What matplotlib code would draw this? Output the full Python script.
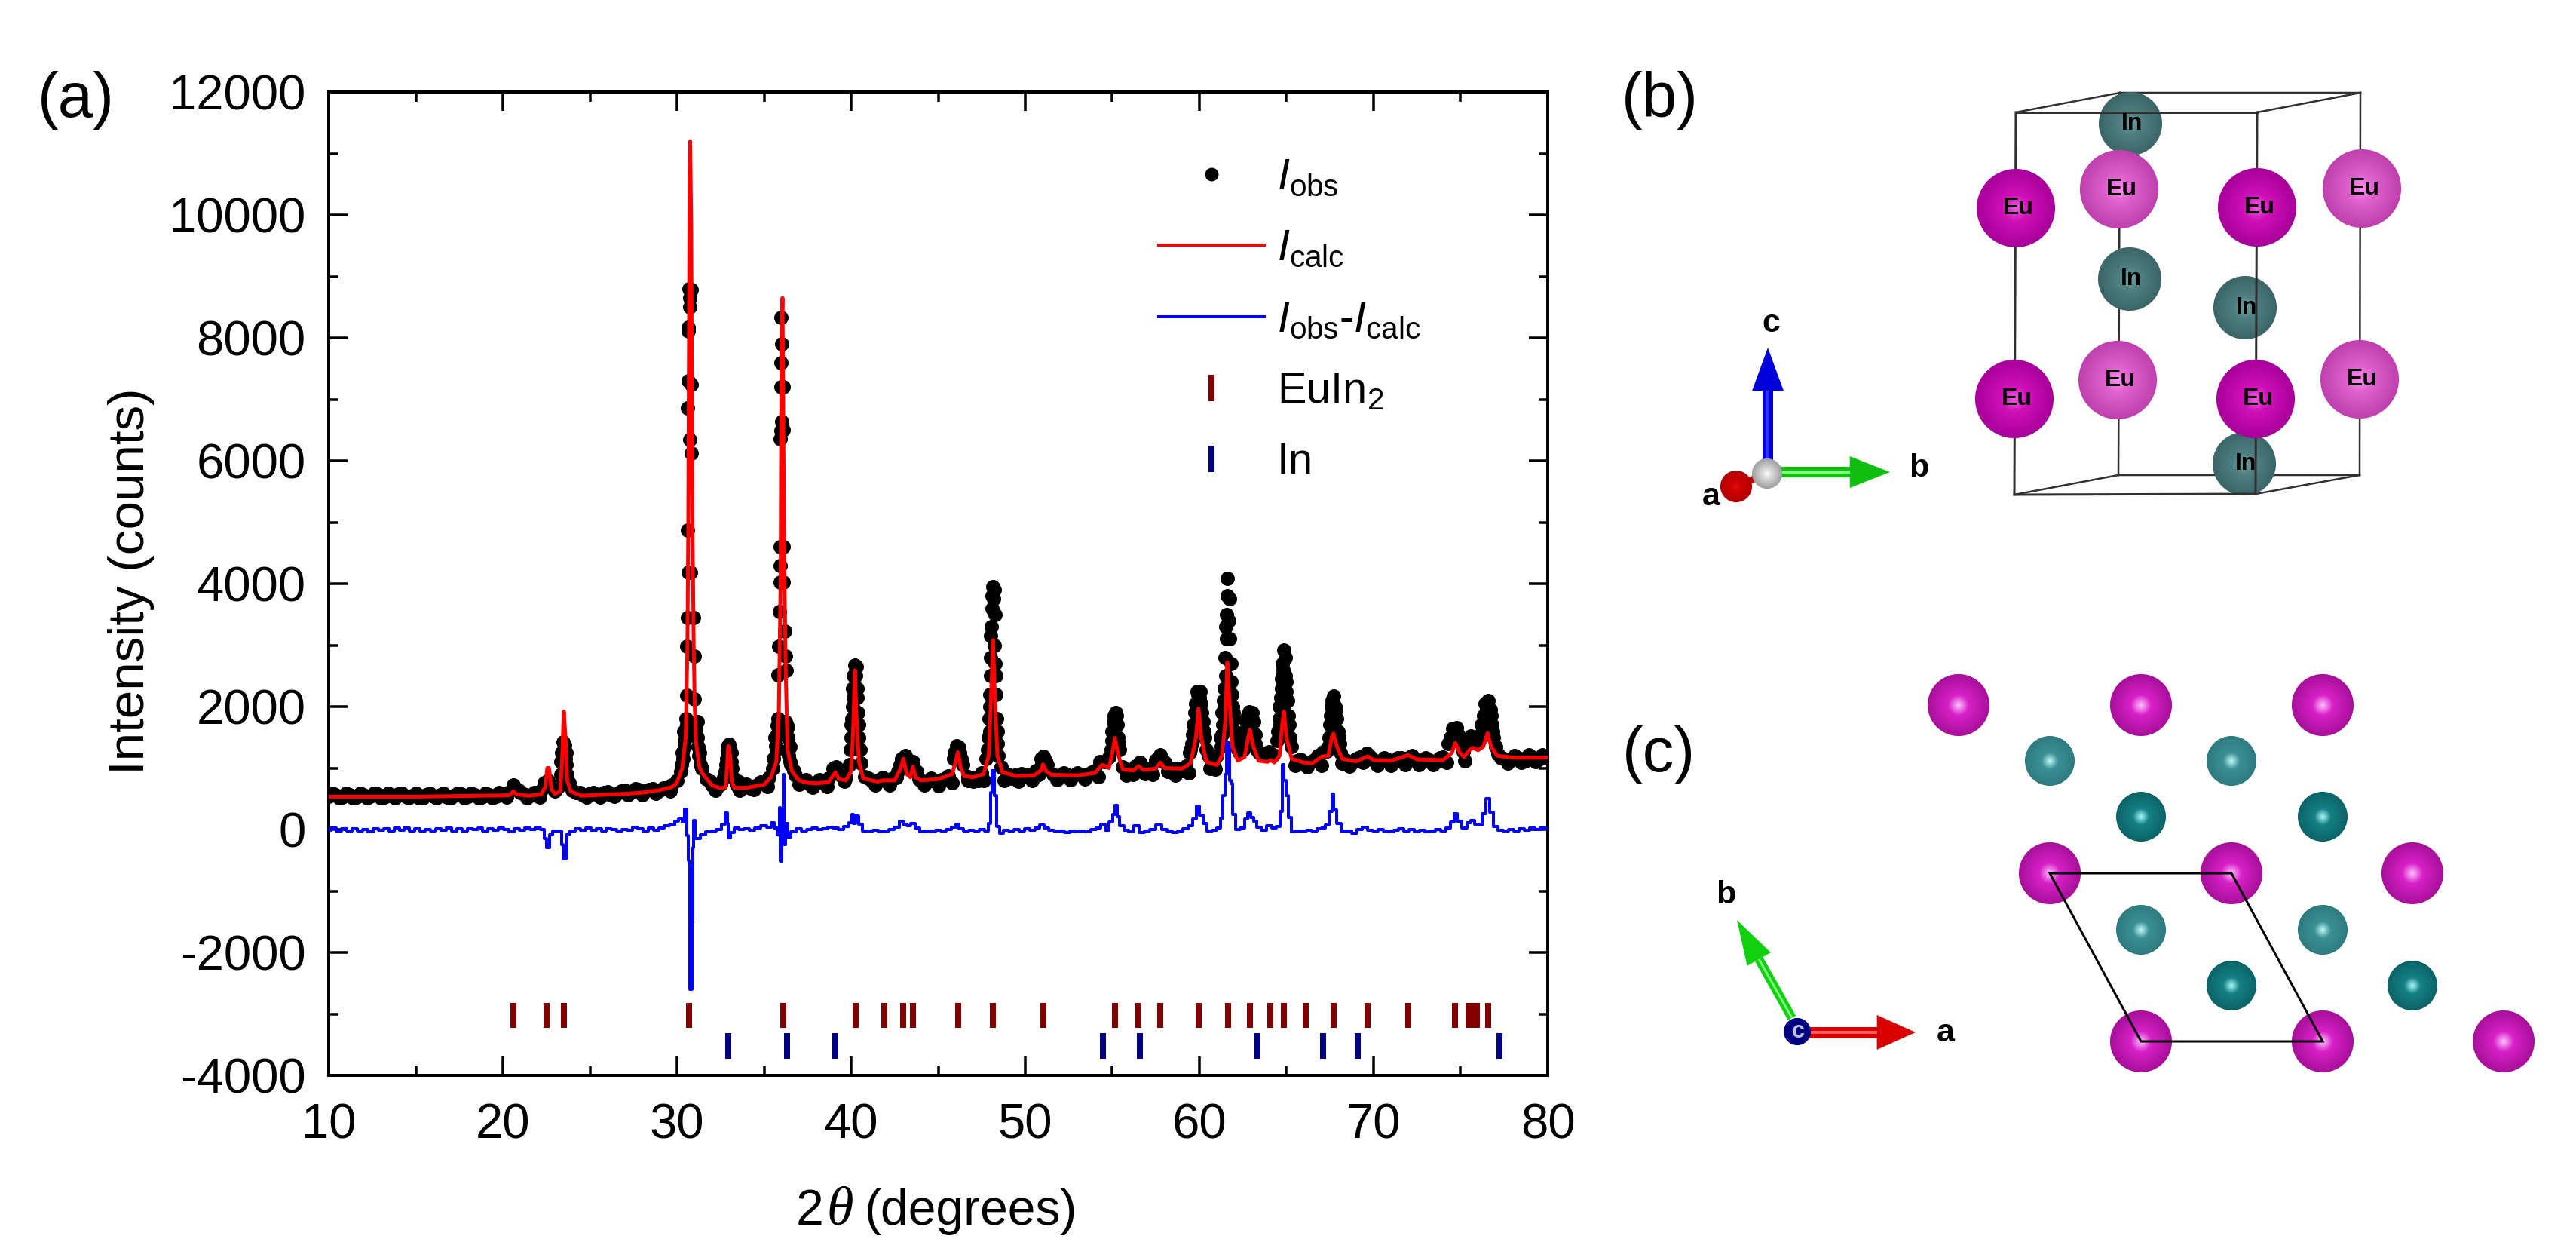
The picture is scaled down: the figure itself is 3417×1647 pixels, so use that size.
import matplotlib
matplotlib.use("Agg")
import matplotlib.pyplot as plt
import numpy as np
from matplotlib.lines import Line2D
from matplotlib.patches import Ellipse, Polygon

plt.rcParams['font.family'] = ['Liberation Sans', 'DejaVu Sans']
plt.rcParams['mathtext.fontset'] = 'custom'
plt.rcParams['mathtext.rm'] = 'Liberation Sans'
plt.rcParams['mathtext.it'] = 'Liberation Sans:italic'
plt.rcParams['mathtext.bf'] = 'Liberation Sans:bold'
plt.rcParams['axes.unicode_minus'] = False

# ---------------- data ----------------
x_ticks = [10, 20, 30, 40, 50, 60, 70, 80]
y_ticks = [-4000, -2000, 0, 2000, 4000, 6000, 8000, 10000, 12000]

obs_pts = [
 (10.0,545),(10.4,570),(10.8,530),(11.2,560),(11.6,525),(12.0,565),(12.4,540),(12.8,575),(13.2,530),(13.6,555),
 (14.0,580),(14.4,535),(14.8,550),(15.2,520),(15.6,560),(16.0,535),(16.4,570),(16.8,525),(17.2,555),(17.6,580),
 (18.0,540),(18.4,560),(18.8,530),(19.2,570),(19.6,545),(20.0,575),(20.3,600),(20.6,720),(20.9,640),(21.2,580),
 (21.6,560),(22.0,590),(22.2,640),(22.4,760),(22.6,800),(22.8,690),(23.0,620),(23.2,700),(23.35,1100),(23.45,1420),
 (23.55,1380),(23.65,1050),(23.8,760),(24.0,640),(24.2,600),(24.6,570),(25.0,590),(25.4,560),(25.8,600),(26.2,570),
 (26.6,590),(27.0,640),(27.4,610),(27.8,650),(28.2,620),(28.6,660),(29.0,640),(29.4,680),(29.7,730),(30.0,800),
 (30.2,950),(30.35,1150),(30.42,1450),(30.5,1800),(30.55,2190),(30.55,2985),(30.6,3450),(30.66,4180),(30.78,4180),(30.62,4870),
 (30.72,6340),(30.62,6860),(30.66,7300),(30.66,8115),(30.66,8175),(30.72,8500),(30.72,8650),(30.68,8800),(30.82,8780),(30.84,7240),
 (30.84,6120),(30.95,3450),(31.0,2820),(31.0,2120),(31.05,1700),(31.15,1500),(31.3,1250),(31.45,1000),(31.7,820),(32.0,720),
 (32.3,690),(32.5,740),(32.7,850),(32.8,1050),(32.88,1350),(33.0,1390),(33.1,1100),(33.2,850),(33.4,720),(33.8,700),
 (34.2,680),(34.6,720),(35.0,760),(35.3,850),(35.5,1000),(35.65,1360),(35.75,1690),(35.82,2520),(35.85,2985),(35.88,3550),
 (35.92,4030),(35.92,4290),(35.95,4600),(35.95,6360),(35.98,6490),(36.02,6640),(35.98,7200),(35.98,7600),(36.0,7900),(35.98,8330),
 (36.12,7200),(36.12,6500),(36.12,4600),(36.12,4030),(36.2,3230),(36.25,2820),(36.28,2590),(36.32,1690),(36.4,1300),(36.55,1050),
 (36.8,880),(37.2,780),(37.6,740),(38.0,770),(38.4,760),(38.7,830),(38.95,1000),(39.15,1020),(39.4,880),(39.7,850),
 (39.9,1050),(40.0,1500),(40.05,1800),(40.12,2150),(40.2,2680),(40.3,2650),(40.35,2150),(40.42,1500),(40.55,1080),(40.8,860),
 (41.2,780),(41.6,810),(42.0,790),(42.4,830),(42.7,950),(42.9,1150),(43.1,1200),(43.3,1000),(43.55,1100),(43.75,950),
 (44.0,800),(44.4,780),(44.8,790),(45.2,810),(45.6,870),(45.9,1150),(46.05,1360),(46.2,1340),(46.4,1050),(46.7,860),
 (47.1,850),(47.5,920),(47.75,1150),(47.9,1500),(47.98,2200),(48.02,2800),(48.02,3150),(48.08,3600),(48.15,3950),(48.22,3900),
 (48.25,3500),(48.22,3000),(48.3,2200),(48.4,1400),(48.6,1020),(49.0,900),(49.4,880),(49.8,910),(50.2,890),(50.6,960),
 (50.9,1150),(51.05,1190),(51.25,1060),(51.6,900),(52.0,880),(52.4,900),(52.8,880),(53.2,900),(53.6,890),(54.0,960),
 (54.3,1100),(54.55,1110),(54.8,1180),(54.98,1450),(55.08,1750),(55.18,1900),(55.3,1700),(55.42,1300),(55.6,1020),(56.0,960),
 (56.3,1030),(56.6,1090),(56.9,1000),(57.2,980),(57.5,1130),(57.75,1210),(58.0,1090),(58.4,1000),(58.8,990),(59.2,1030),
 (59.45,1250),(59.6,1550),(59.75,1900),(59.85,2250),(60.05,2250),(60.15,1900),(60.3,1500),(60.5,1200),(60.8,1100),(61.0,1200),
 (61.2,1500),(61.32,1900),(61.42,2300),(61.48,2800),(61.55,3100),(61.55,3500),(61.6,3800),(61.62,4080),(61.72,3750),(61.72,3100),
 (61.8,2700),(61.88,2200),(62.0,1800),(62.15,1400),(62.3,1250),(62.55,1450),(62.7,1750),(62.85,1920),(63.05,1900),(63.2,1550),
 (63.4,1250),(63.7,1210),(64.0,1260),(64.25,1220),(64.45,1450),(64.58,1800),(64.68,2150),(64.72,2450),(64.78,2700),(64.85,2920),
 (64.95,2800),(64.98,2400),(65.05,2100),(65.15,1700),(65.3,1350),(65.6,1120),(66.0,1090),(66.4,1100),(66.8,1200),(67.1,1260),
 (67.3,1280),(67.45,1500),(67.55,1850),(67.62,2100),(67.72,2170),(67.85,1950),(67.95,1600),(68.1,1250),(68.4,1130),(68.8,1090),
 (69.2,1180),(69.6,1240),(70.0,1130),(70.4,1100),(70.8,1140),(71.2,1110),(71.6,1160),(72.0,1170),(72.4,1140),(72.8,1110),
 (73.2,1130),(73.6,1110),(74.0,1180),(74.3,1400),(74.55,1650),(74.75,1660),(74.95,1500),(75.15,1260),(75.35,1430),(75.6,1520),
 (75.85,1430),(76.05,1450),(76.2,1700),(76.4,2050),(76.6,2100),(76.75,1850),(76.9,1500),(77.15,1230),(77.5,1150),(77.9,1130),
 (78.3,1170),(78.7,1120),(79.1,1180),(79.5,1140),(80.0,1170),
]
# further observed points: scatter of the background band and the flanks of the peaks
obs_scatter = [
 (10.2,590),(10.6,515),(11.0,585),(11.4,510),(11.8,590),(12.2,520),(12.6,585),(13.0,510),(13.4,590),(13.8,515),
 (14.2,590),(14.6,510),(15.0,585),(15.4,515),(15.8,590),(16.2,520),(16.6,590),(17.0,510),(17.4,585),(17.8,520),
 (18.2,590),(18.6,515),(19.0,590),(19.4,520),(19.8,600),(20.2,530),(21.0,600),(21.4,520),(21.8,600),(22.1,530),
 (24.4,600),(24.8,530),(25.2,600),(25.6,530),(26.0,610),(26.4,540),(26.8,620),(27.2,560),(27.6,660),(28.0,570),
 (28.4,650),(28.8,590),(29.2,680),(29.6,620),(31.9,780),(32.2,640),(33.5,780),(33.6,640),(34.0,740),(34.4,650),
 (34.8,770),(35.2,700),(36.7,960),(37.0,740),(37.4,810),(37.8,690),(38.2,810),(38.6,700),(39.6,780),(41.0,840),
 (41.4,720),(41.8,850),(42.2,730),(42.6,850),(43.9,820),(44.2,720),(44.6,830),(45.0,710),(45.4,840),(45.8,760),
 (46.7,800),(47.0,780),(47.3,800),(47.6,800),(48.8,800),(49.2,830),(49.6,790),(50.0,860),(50.4,800),(50.8,900),
 (51.8,810),(52.2,920),(52.6,810),(53.0,920),(53.4,820),(53.8,930),(54.2,860),(55.8,880),(56.2,900),(56.9,910),
 (57.3,900),(58.2,950),(58.6,880),(59.0,960),(59.4,920),(60.6,1000),(60.9,980),(65.5,1040),(65.8,1140),(66.2,1020),
 (66.6,1130),(67.0,1040),(68.2,1080),(68.6,1030),(69.0,1150),(69.4,1090),(69.8,1190),(70.2,1040),(70.6,1160),(71.0,1040),
 (71.4,1170),(71.8,1060),(72.2,1200),(72.6,1060),(73.0,1170),(73.4,1050),(73.8,1170),(74.2,1090),(75.25,1120),(77.3,1170),
 (77.7,1080),(78.1,1200),(78.5,1090),(78.9,1210),(79.3,1100),(79.7,1210),
 (23.32,900),(23.38,1250),(23.42,1100),(23.5,1300),(23.5,1150),(23.58,1150),(23.62,1250),(23.7,900),(23.5,950),
 (32.78,950),(32.85,1150),(32.9,1250),(33.05,1300),(33.1,1250),(33.15,1000),(33.0,1150),
 (30.25,1050),(30.3,1250),(30.4,1600),(30.45,1350),(30.5,1550),(31.1,1650),(31.2,1350),(31.15,1750),(31.25,1200),(31.35,1050),(30.55,1700),(31.0,1600),
 (35.55,1150),(35.62,1500),(35.7,1300),(35.75,1550),(36.3,1650),(36.35,1500),(36.42,1200),(36.48,1350),(36.5,1100),(35.8,1800),(36.25,1750),
 (40.02,1700),(40.08,2000),(40.1,2300),(40.15,2500),(40.28,2500),(40.33,2300),(40.38,1900),(40.42,1700),(40.5,1300),(39.95,1300),
 (42.8,1050),(43.0,1050),(43.2,1100),(45.95,1250),(46.12,1200),(46.25,1250),(46.32,1150),
 (47.85,1300),(47.92,1800),(47.95,2000),(47.98,1600),(48.0,2500),(48.05,3300),(48.1,3800),(48.2,3750),(48.28,2700),(48.3,2500),(48.35,1800),(48.38,1600),(48.45,1200),
 (50.95,1080),(51.15,1120),(55.0,1600),(55.08,1500),(55.1,1850),(55.25,1850),(55.33,1500),(55.38,1400),(54.95,1300),
 (59.55,1400),(59.65,1700),(59.7,1600),(59.8,2050),(59.9,2200),(59.98,2150),(60.1,2050),(60.2,1750),(60.25,1600),(60.4,1300),(59.5,1300),
 (61.25,1350),(61.35,1700),(61.3,1550),(61.4,2100),(61.45,2000),(61.5,2500),(61.5,3300),(61.7,3400),(61.82,2400),(61.9,2000),(61.95,1900),(62.05,1600),(62.2,1300),
 (62.6,1600),(62.75,1850),(62.95,1900),(63.1,1750),(63.2,1400),(63.3,1300),(62.5,1300),
 (64.5,1600),(64.6,2000),(64.65,1700),(64.7,2300),(64.75,2500),(64.82,2600),(64.92,2500),(65.0,2250),(65.1,1850),(65.2,1500),(64.9,2150),(64.8,2000),
 (67.5,1700),(67.58,2000),(67.65,1800),(67.78,2000),(67.88,1800),(68.0,1500),(68.05,1400),(67.4,1350),
 (74.4,1500),(74.5,1500),(74.65,1550),(74.85,1550),(75.05,1380),(75.45,1480),(75.75,1500),
 (76.15,1550),(76.3,1850),(76.35,1650),(76.5,1950),(76.7,1950),(76.8,1700),(76.85,1600),(77.0,1350),
]
calc_pts = [
 (10,535),(15,535),(20,555),(20.4,560),(20.6,620),(20.8,570),(21.5,550),(22.2,570),(22.45,700),(22.55,1000),
 (22.65,1000),(22.8,650),(23.0,580),(23.3,620),(23.4,1100),(23.5,1920),(23.6,1500),(23.7,800),(23.9,620),(24.5,550),
 (27,580),(28,600),(29,640),(29.7,690),(30,760),(30.3,1000),(30.5,1500),(30.6,3000),(30.65,5000),(30.72,10600),
 (30.76,11200),(30.82,9700),(30.88,5200),(30.96,3000),(31.02,2000),(31.1,1400),(31.3,1000),(31.5,900),(32,720),(32.5,670),
 (32.8,690),(32.85,900),(32.95,1360),(33.05,1200),(33.15,760),(33.3,680),(34,680),(35,730),(35.4,850),(35.7,1100),
 (35.85,1900),(35.95,4000),(36.0,7900),(36.06,8650),(36.1,7000),(36.15,4500),(36.25,2500),(36.35,1300),(36.6,950),(37,800),
 (37.5,760),(38,750),(38.7,770),(38.9,850),(39.1,930),(39.3,820),(39.7,800),(40.0,950),(40.1,1500),(40.22,2590),
 (40.3,1900),(40.45,1100),(40.7,830),(41.5,780),(41.85,800),(42.5,800),(42.85,1000),(43.0,1150),(43.2,900),(43.4,850),
 (43.55,1020),(43.7,850),(44,800),(45,820),(45.8,900),(46.0,1100),(46.13,1260),(46.3,1000),(46.5,870),(47,850),
 (47.6,900),(47.9,1200),(48.0,1900),(48.15,3080),(48.25,2200),(48.4,1200),(48.7,930),(49.5,870),(50.5,880),(50.9,960),
 (51.02,1060),(51.2,950),(51.5,890),(53,880),(54,920),(54.4,1050),(54.55,1040),(54.8,1000),(55.0,1250),(55.15,1490),
 (55.35,1200),(55.6,980),(56.2,960),(56.5,1030),(56.8,970),(57.5,990),(57.76,1090),(58,1000),(59,990),(59.5,1080),
 (59.8,1500),(59.95,1970),(60.1,1500),(60.4,1100),(61,1050),(61.3,1200),(61.5,1800),(61.6,2720),(61.7,2200),(61.9,1350),
 (62.2,1120),(62.6,1180),(62.8,1500),(62.9,1620),(63.1,1350),(63.4,1120),(63.9,1100),(64.09,1130),(64.3,1090),(64.6,1200),
 (64.75,1700),(64.85,1920),(65,1500),(65.3,1150),(66,1090),(66.5,1080),(67.0,1180),(67.15,1190),(67.4,1200),(67.6,1500),
 (67.7,1560),(67.9,1350),(68.2,1150),(69,1110),(69.66,1190),(70,1130),(71,1120),(71.99,1210),(72.5,1140),(74,1130),
 (74.5,1250),(74.7,1410),(74.95,1250),(75.2,1180),(75.5,1290),(75.7,1330),(76,1290),(76.3,1350),(76.55,1570),(76.75,1350),
 (77.1,1200),(78,1170),(80,1170),
]
diff_pts = [
 (10,-10),(10.3,20),(10.6,-30),(10.9,10),(11.2,-25),(11.5,15),(11.8,-20),(12.1,5),(12.4,-35),(12.7,15),
 (13,-15),(13.3,10),(13.6,-30),(13.9,20),(14.2,-10),(14.5,30),(14.8,-25),(15.1,10),(15.4,-20),(15.7,5),
 (16,-30),(16.3,15),(16.6,-15),(16.9,20),(17.2,-25),(17.5,10),(17.8,-20),(18.1,15),(18.4,-5),(18.7,20),
 (19,-25),(19.3,15),(19.6,-10),(19.9,20),(20.2,-5),(20.5,-40),(20.8,15),(21.1,-15),(21.4,25),(21.7,5),
 (22.0,30),(22.3,0),(22.45,-150),(22.55,-300),(22.65,-300),(22.75,-80),(23.0,-30),(23.3,-20),(23.42,-250),(23.5,-480),
 (23.6,-470),(23.72,-70),(24,-20),(24.3,10),(24.6,-15),(24.9,20),(25.2,-10),(25.5,15),(25.8,-25),(26.1,10),
 (26.4,-5),(26.7,-25),(27,5),(27.3,-15),(27.6,35),(27.9,15),(28.2,-20),(28.5,20),(28.8,-10),(29.1,25),
 (29.4,60),(29.7,70),(30,130),(30.2,170),(30.4,120),(30.5,330),(30.6,-100),(30.68,-500),(30.72,-560),(30.78,-2600),
 (30.85,-2600),(30.9,-1500),(30.93,-300),(31.0,150),(31.05,-150),(31.2,-150),(31.5,-80),(31.8,-40),(32.1,-30),(32.4,0),
 (32.7,80),(32.85,270),(32.92,100),(33.0,-130),(33.15,-50),(33.4,20),(33.7,-5),(34,15),(34.3,-10),(34.6,30),
 (35,60),(35.3,40),(35.5,110),(35.7,30),(35.85,-80),(35.92,350),(35.98,-520),(36.05,-100),(36.12,900),(36.2,-250),
 (36.3,100),(36.4,-120),(36.7,-40),(37,10),(37.3,-20),(37.6,5),(37.9,25),(38.2,-5),(38.5,15),(38.8,40),
 (39.1,30),(39.4,5),(39.7,50),(40,110),(40.1,250),(40.2,100),(40.35,220),(40.5,80),(40.8,-20),(41.1,-30),
 (41.4,-10),(41.7,-40),(42,-20),(42.3,-5),(42.6,40),(42.9,130),(43.1,90),(43.3,60),(43.55,100),(43.8,20),
 (44.1,-40),(44.4,-20),(44.7,-35),(45,-15),(45.3,-25),(45.6,-5),(45.9,40),(46.1,80),(46.3,10),(46.6,-20),
 (46.9,-10),(47.2,-25),(47.5,-5),(47.8,-20),(47.95,100),(48.05,600),(48.15,960),(48.3,550),(48.42,50),(48.6,-60),
 (48.9,-10),(49.2,-30),(49.5,-5),(49.8,-20),(50.1,10),(50.4,-15),(50.7,20),(50.95,70),(51.2,20),(51.5,-15),
 (51.8,-30),(52.1,-20),(52.4,-45),(52.7,-25),(53,-40),(53.3,-20),(53.6,-35),(53.9,-5),(54.2,30),(54.45,90),
 (54.7,-10),(54.95,120),(55.1,240),(55.2,390),(55.35,210),(55.5,60),(55.8,-15),(56.1,-40),(56.4,60),(56.7,-50),
 (57,-30),(57.3,-5),(57.7,70),(58,0),(58.3,-30),(58.6,-50),(58.9,-20),(59.2,10),(59.5,60),(59.75,170),
 (59.9,380),(60.1,230),(60.3,100),(60.6,-20),(60.9,-10),(61.1,30),(61.3,180),(61.42,550),(61.5,900),(61.58,1420),
 (61.68,1350),(61.75,800),(61.85,750),(61.95,250),(62.2,0),(62.5,30),(62.7,170),(62.85,270),(63.0,200),(63.2,130),
 (63.4,40),(63.7,-10),(64.0,60),(64.3,30),(64.55,50),(64.7,300),(64.8,1050),(64.9,800),(65.05,550),(65.2,200),
 (65.4,-40),(65.7,-20),(66,-30),(66.3,-10),(66.6,-25),(66.9,10),(67.1,30),(67.35,70),(67.55,300),(67.65,580),
 (67.8,320),(68,100),(68.3,-20),(68.6,-30),(68.9,-60),(69.2,0),(69.5,40),(69.8,-15),(70.1,-30),(70.4,-5),
 (70.7,-25),(71,-40),(71.3,-10),(71.6,10),(71.9,-25),(72.2,-5),(72.5,-35),(72.8,-15),(73.1,-40),(73.4,-25),
 (73.7,-5),(74,-20),(74.3,30),(74.55,120),(74.7,260),(74.9,130),(75.2,20),(75.5,110),(75.7,150),(75.9,90),
 (76.1,70),(76.35,260),(76.55,500),(76.75,280),(77,50),(77.3,-15),(77.6,-25),(77.9,-5),(78.2,-20),(78.5,10),
 (78.8,-15),(79.1,20),(79.4,-5),(79.7,25),(80,10),
]
euin2_pos = [20.6, 22.5, 23.5, 30.7, 36.1, 40.25, 41.9, 43.0, 43.55, 46.13, 48.16, 51.02, 55.15, 56.49, 57.76,
             59.97, 61.63, 62.9, 64.09, 64.84, 66.1, 67.7, 69.66, 71.99, 74.68, 75.45, 75.67, 75.92, 76.57]
in_pos = [32.95, 36.3, 39.1, 54.45, 56.56, 63.32, 67.1, 69.11, 77.24]

obs_x, obs_y = zip(*(obs_pts + obs_scatter))
calc_x, calc_y = zip(*calc_pts)
diff_x, diff_y = zip(*diff_pts)

# ---------------- crystal pictures (values in image pixels) ----------------
b_eu_front = [(2674, 276), (2994, 275), (2672, 529), (2992, 529)]
b_eu_back = [(2811, 251), (3133, 250), (2809, 504), (3130, 503)]
b_in = [(2826, 164), (2825, 370), (2978, 408), (2977, 615)]
c_eu = [(2598, 935), (2840, 935), (3081, 935), (2719, 1158), (2960, 1158), (3200, 1158),
        (2840, 1381), (3081, 1381), (3321, 1381)]
c_in_light = [(2719, 1009), (2960, 1009), (2840, 1233), (3081, 1233)]
c_in_dark = [(2840, 1083), (3081, 1083), (2960, 1307), (3200, 1307)]

W, H, DPI = 3417, 1647, 100
PX = 72 / DPI
fig = plt.figure(figsize=(W / DPI, H / DPI), dpi=DPI, facecolor='white')
L, R, T, B = 436, 2053, 122, 1426
ax = fig.add_axes([L / W, 1 - B / H, (R - L) / W, (B - T) / H])

ax.plot(obs_x, obs_y, ls='none', marker='o', ms=19 * PX, mfc='black', mec='black', mew=0, zorder=2)
ax.plot(diff_x, diff_y, color='#0000ff', lw=4 * PX, zorder=3, drawstyle='steps-mid')
ax.plot(calc_x, calc_y, color='#ff0000', lw=5 * PX, zorder=4)
ax.vlines(euin2_pos, -3230, -2820, color='#800000', lw=8 * PX, zorder=3)
ax.vlines(in_pos, -3733, -3315, color='#000080', lw=8 * PX, zorder=3)

ax.set_xlim(10, 80)
ax.set_ylim(-4000, 12000)
ax.set_xticks(x_ticks)
ax.set_xticklabels([str(v) for v in x_ticks])
ax.set_yticks(y_ticks)
ax.set_yticklabels([str(v) for v in y_ticks])
ax.set_xticks(np.arange(15, 80, 10), minor=True)
ax.set_yticks(np.arange(-3000, 12000, 2000), minor=True)
ax.tick_params(which='major', direction='in', length=25 * PX, width=3.5 * PX, top=True, right=True,
               labelsize=47)
ax.tick_params(which='minor', direction='in', length=12.5 * PX, width=3.5 * PX, top=True, right=True)
ax.tick_params(axis='x', which='major', pad=26)
ax.tick_params(axis='y', which='major', pad=22)
for s in ax.spines.values():
    s.set_linewidth(4 * PX)

# legend
handles = [
    Line2D([], [], ls='none', marker='o', ms=18 * PX, mfc='black', mec='black', mew=0),
    Line2D([], [], color='#ff0000', lw=4 * PX),
    Line2D([], [], color='#0000ff', lw=4 * PX),
    Line2D([], [], ls='none', marker='|', ms=35 * PX, mec='#800000', mew=8 * PX),
    Line2D([], [], ls='none', marker='|', ms=35 * PX, mec='#000080', mew=8 * PX),
]
labels = [r'$\mathit{I}_{\mathrm{obs}}$', r'$\mathit{I}_{\mathrm{calc}}$',
          r'$\mathit{I}_{\mathrm{obs}}$-$\mathit{I}_{\mathrm{calc}}$', r'EuIn$_{2}$', 'In']
ax.legend(handles, labels, loc='upper left', bbox_to_anchor=(1537 / W, 1 - 209 / H),
          bbox_transform=fig.transFigure, frameon=False, fontsize=41.5, borderpad=0, borderaxespad=0,
          handlelength=140 / 57.6, handletextpad=17 / 57.6, labelspacing=0.70)

# overlay in image pixels for text and crystal pictures
ov = fig.add_axes([0, 0, 1, 1], zorder=5)
ov.set_xlim(0, W)
ov.set_ylim(H, 0)
ov.axis('off')
ov.patch.set_alpha(0)

ov.text(174, 771, 'Intensity (counts)', rotation=90, ha='center', va='center', fontsize=48.5)
ov.text(1056, 1624, '2', ha='left', va='baseline', fontsize=47.5)
ov.text(1096, 1624, 'θ', ha='left', va='baseline', fontsize=52, family='Liberation Serif', style='italic')
ov.text(1147, 1624, '(degrees)', ha='left', va='baseline', fontsize=47.5)
ov.text(101, 155, '(a)', ha='center', va='baseline', fontsize=60)
ov.text(2202, 155, '(b)', ha='center', va='baseline', fontsize=60)
ov.text(2200, 1023, '(c)', ha='center', va='baseline', fontsize=60)


def mix(c1, c2, t):
    a = np.array(matplotlib.colors.to_rgb(c1))
    b = np.array(matplotlib.colors.to_rgb(c2))
    return tuple(a + (b - a) * t)


def sphere(cx, cy, r, edge, mid, hi, z):
    n = 30
    for i in range(n):
        t = i / (n - 1)
        rr = r * (1 - t)
        if t < 0.65:
            col = mix(edge, mid, t / 0.65)
        else:
            col = mix(mid, hi, (t - 0.65) / 0.35)
        ov.add_patch(Ellipse((cx, cy), 2 * rr + 0.1, 2 * rr + 0.1, fc=col, ec='none', zorder=z))


def poly_arrow(start, tip, base_frac, shaft_w, head_w, fc, hi, z):
    s = np.array(start, float)
    t = np.array(tip, float)
    d = t - s
    u = d / np.hypot(*d)
    n = np.array([-u[1], u[0]])
    b = s + d * base_frac
    ov.add_patch(Polygon([s + n * shaft_w / 2, b + n * shaft_w / 2, b - n * shaft_w / 2, s - n * shaft_w / 2],
                         fc=fc, ec='none', zorder=z))
    ov.add_patch(Polygon([s + n * shaft_w * 0.12, b + n * shaft_w * 0.12, b - n * shaft_w * 0.12, s - n * shaft_w * 0.12],
                         fc=hi, ec='none', zorder=z + 0.1))
    ov.add_patch(Polygon([b + n * head_w / 2, t, b - n * head_w / 2], fc=fc, ec='none', zorder=z))


# panel (b): unit cell
back = [[(2812, 123), (3131, 123)], [(2812, 123), (2810, 630)], [(3131, 123), (3130, 630)],
        [(2810, 630), (3130, 630)], [(2674, 149), (2812, 123)], [(2994, 149), (3131, 123)],
        [(2672, 656), (2810, 630)], [(2992, 655), (3130, 630)]]
front = [[(2674, 149), (2994, 149)], [(2674, 149), (2672, 656)], [(2994, 149), (2992, 655)],
         [(2672, 656), (2992, 655)]]
for p, q in back:
    ov.plot([p[0], q[0]], [p[1], q[1]], color='#303030', lw=2.5 * PX, zorder=1)
for p, q in front:
    ov.plot([p[0], q[0]], [p[1], q[1]], color='#303030', lw=3 * PX, zorder=3)
for cx, cy in b_in:
    sphere(cx, cy, 42, '#3c6668', '#4f8082', '#7aa4a6', 2)
    ov.text(cx + 2, cy, 'In', ha='center', va='center', fontsize=23, fontweight='bold', color='black', zorder=3.5)
for cx, cy in b_eu_back:
    sphere(cx, cy, 52, '#c040b0', '#e060d0', '#ff90f0', 4)
    ov.text(cx + 3, cy, 'Eu', ha='center', va='center', fontsize=23, fontweight='bold', color='black', zorder=4.5)
for cx, cy in b_eu_front:
    sphere(cx, cy, 52, '#a8009a', '#d010b8', '#f060e0', 4)
    ov.text(cx + 3, cy, 'Eu', ha='center', va='center', fontsize=23, fontweight='bold', color='black', zorder=4.5)

# axes triad (b)
poly_arrow((2345, 612), (2345, 461), 0.62, 14, 42, '#0000d8', '#3030ff', 6)
poly_arrow((2363, 626), (2507, 626), 0.63, 14, 42, '#10c010', '#80ff80', 6)
ov.plot([2303, 2338], [645, 630], color='#c00000', lw=9 * PX, zorder=6)
sphere(2344, 628, 20, '#a0a0a0', '#d8d8d8', '#ffffff', 7)
sphere(2303, 645, 21, '#b00000', '#d00000', '#e01010', 8)
ov.text(2349, 429, 'c', ha='center', va='center', fontsize=31, fontweight='bold')
ov.text(2545, 621, 'b', ha='center', va='center', fontsize=31, fontweight='bold')
ov.text(2270, 659, 'a', ha='center', va='center', fontsize=31, fontweight='bold')

# panel (c): projection
for cx, cy in c_eu:
    sphere(cx, cy, 41, '#a8109a', '#d820c8', '#ffc8ff', 2)
for cx, cy in c_in_light:
    sphere(cx, cy, 33, '#2e7c80', '#3a9094', '#c8ffff', 2)
for cx, cy in c_in_dark:
    sphere(cx, cy, 33, '#0c6468', '#148084', '#b0ffff', 2)
cell = [(2719, 1158), (2960, 1158), (3081, 1381), (2840, 1381)]
ov.add_patch(Polygon(cell, closed=True, fc='none', ec='black', lw=3 * PX, zorder=6))

poly_arrow((2390, 1369), (2541, 1369), 0.66, 15, 46, '#d80000', '#ff6060', 6)
poly_arrow((2377, 1350), (2304, 1220), 0.60, 12, 36, '#10d010', '#80ff80', 6)
sphere(2384, 1368, 18, '#000080', '#000080', '#000080', 7)
ov.text(2385, 1368, 'c', ha='center', va='center', fontsize=22, fontweight='bold', color='#c0c0e0', zorder=8)
ov.text(2289, 1187, 'b', ha='center', va='center', fontsize=31, fontweight='bold')
ov.text(2581, 1370, 'a', ha='center', va='center', fontsize=31, fontweight='bold')

fig.savefig('out.png', dpi=DPI, facecolor='white')
